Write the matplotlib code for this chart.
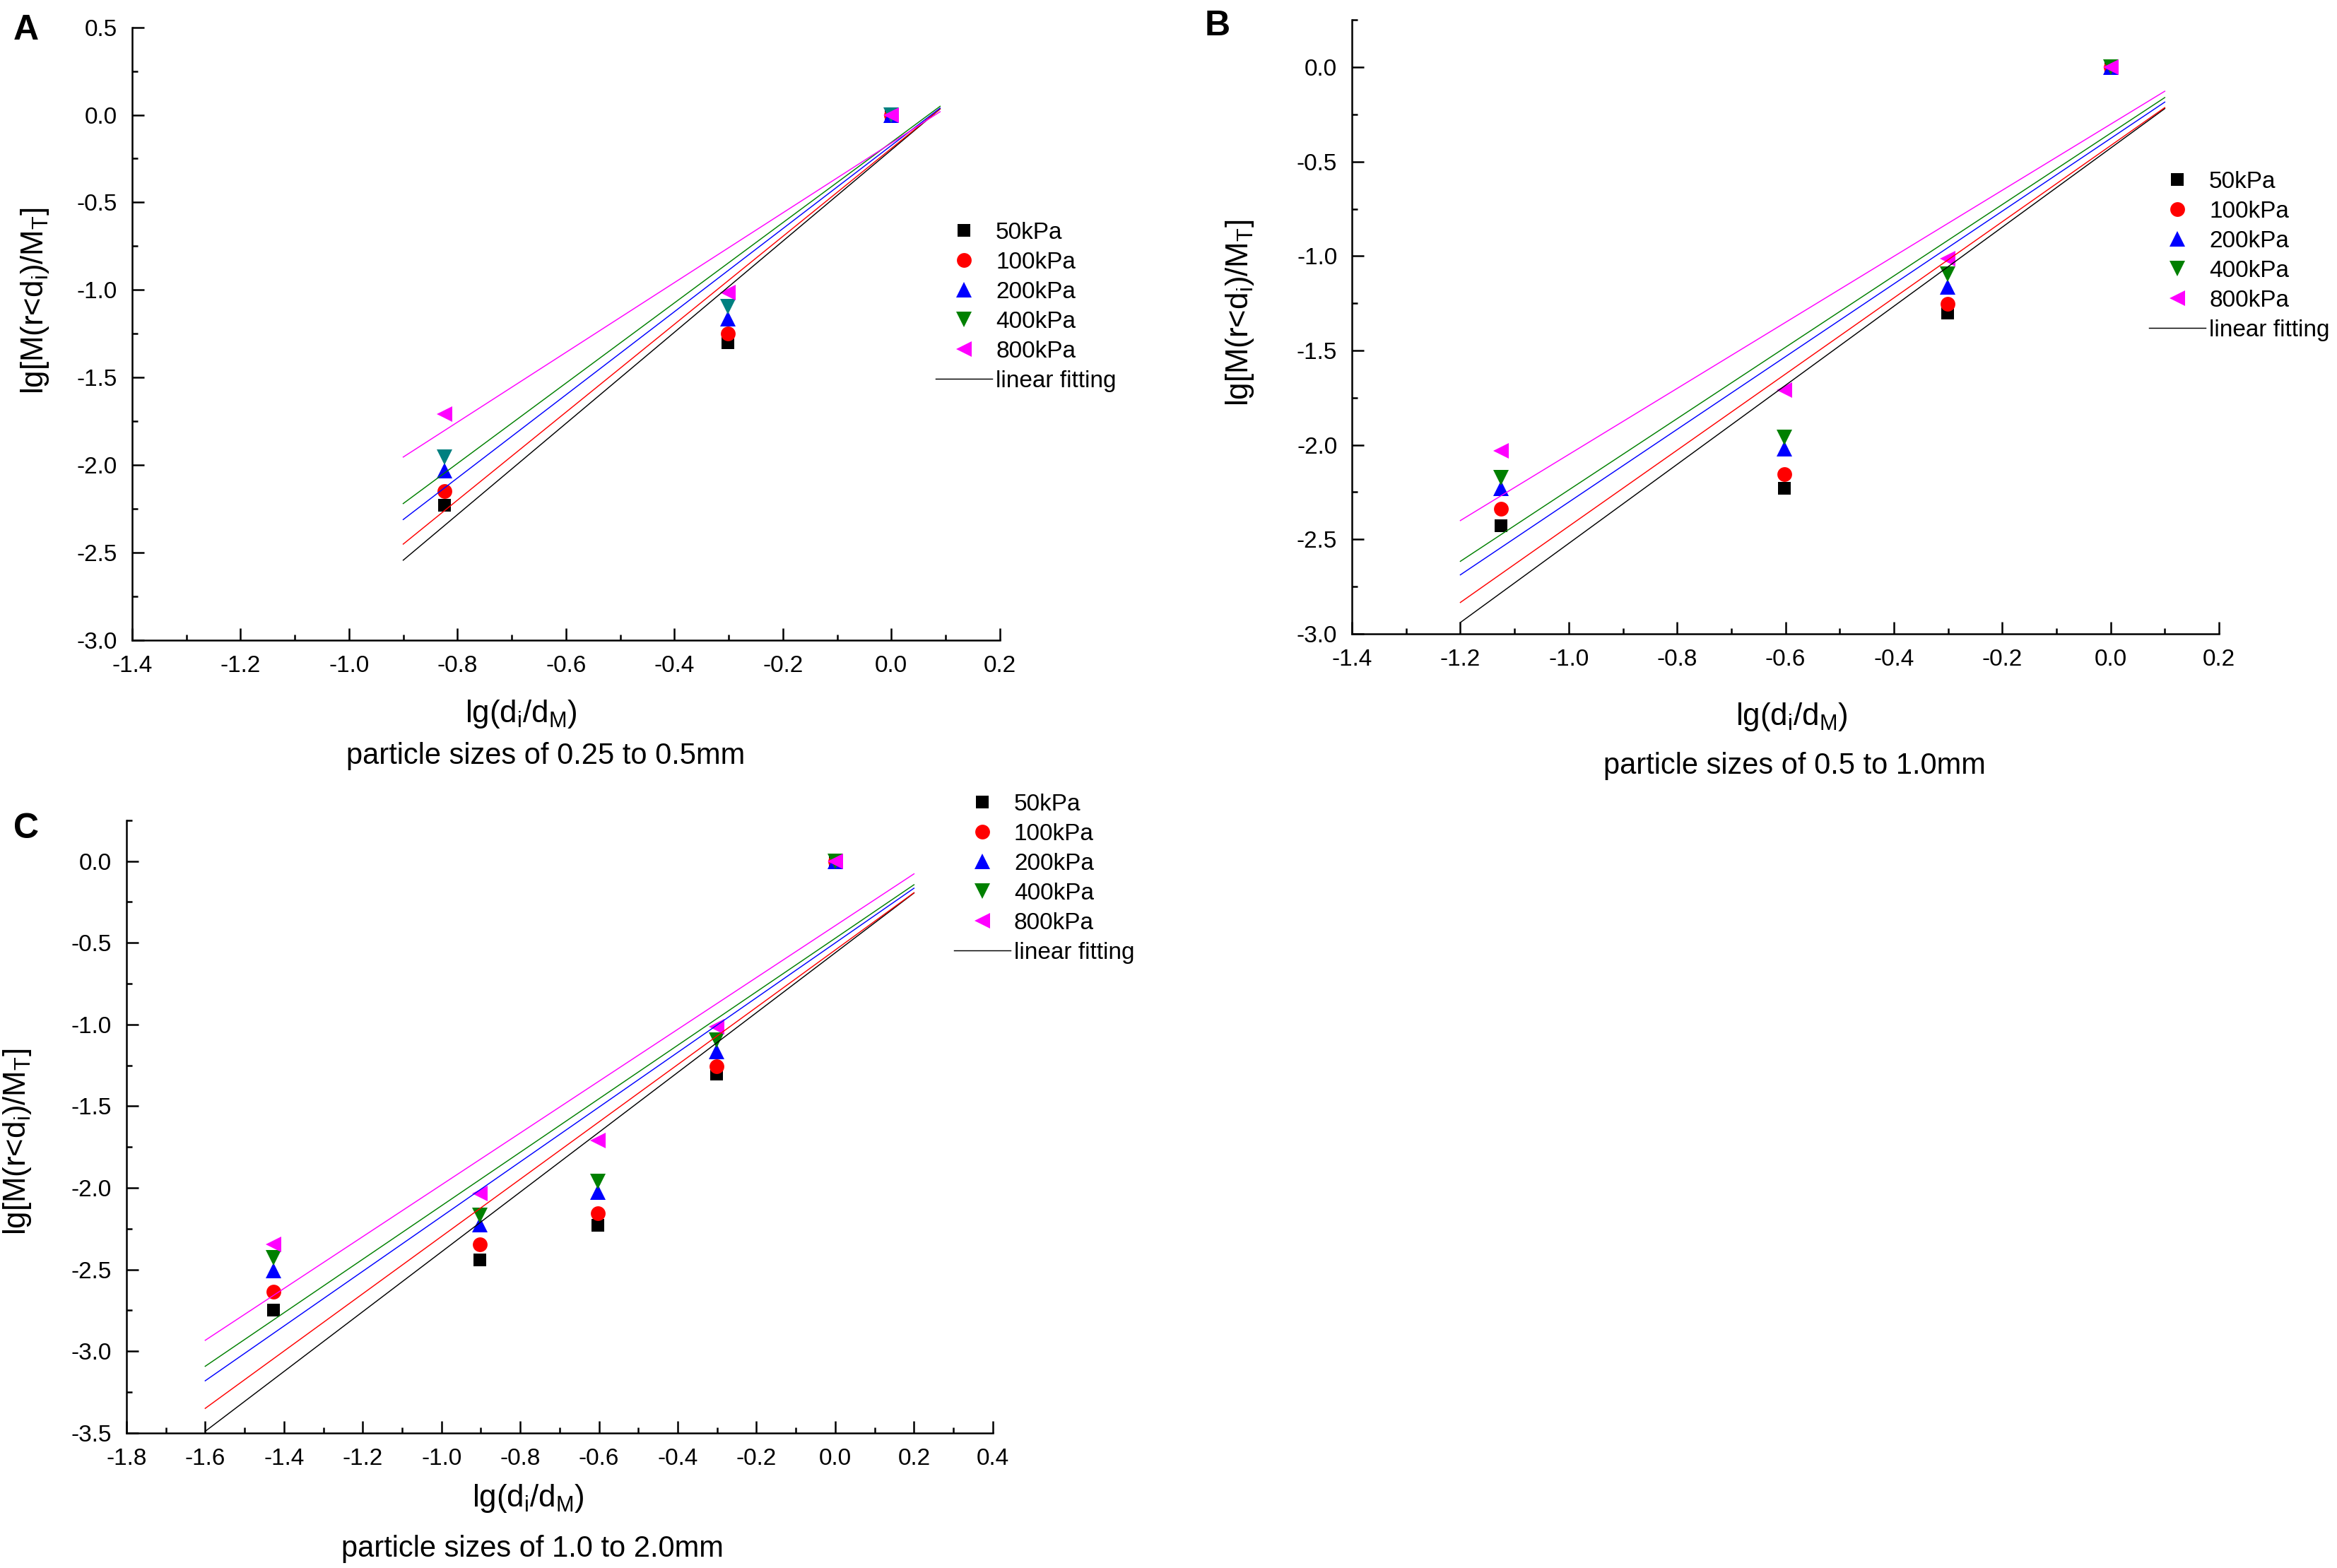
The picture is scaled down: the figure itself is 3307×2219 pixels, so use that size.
import numpy as np
import matplotlib
matplotlib.use("Agg")
from matplotlib import pyplot as plt
from matplotlib.lines import Line2D
import matplotlib.ticker as ticker

plt.rcParams['font.family'] = ['Liberation Sans', 'DejaVu Sans']
plt.rcParams['mathtext.fontset'] = 'custom'
plt.rcParams['mathtext.rm'] = 'Liberation Sans'
plt.rcParams['axes.unicode_minus'] = False

# Data
pressures = ["50kPa", "100kPa", "200kPa", "400kPa", "800kPa"]

# A: particle sizes of 0.25 to 0.5mm
A_x = [-0.824, -0.301, 0.0]
A_p50 = [-2.23, -1.30, 0.0]
A_p100 = [-2.15, -1.25, 0.0]
A_p200 = [-2.03, -1.165, 0.0]
A_p400 = [-1.955, -1.095, 0.0]
A_p800 = [-1.71, -1.015, 0.0]

# B: particle sizes of 0.5 to 1.0mm
B_x = [-1.125, -0.602, -0.301, 0.0]
B_p50 = [-2.43, -2.23, -1.30, 0.0]
B_p100 = [-2.34, -2.155, -1.255, 0.0]
B_p200 = [-2.23, -2.02, -1.165, 0.0]
B_p400 = [-2.175, -1.96, -1.095, 0.0]
B_p800 = [-2.03, -1.71, -1.015, 0.0]

# C: particle sizes of 1.0 to 2.0mm
C_x = [-1.426, -0.903, -0.602, -0.301, 0.0]
C_p50 = [-2.75, -2.44, -2.23, -1.305, 0.0]
C_p100 = [-2.635, -2.345, -2.155, -1.255, 0.0]
C_p200 = [-2.505, -2.225, -2.025, -1.165, 0.0]
C_p400 = [-2.43, -2.17, -1.96, -1.095, 0.0]
C_p800 = [-2.345, -2.035, -1.71, -1.015, 0.0]

# x range drawn for the fitted lines
A_fit_range = [-0.9, 0.09]
B_fit_range = [-1.2, 0.1]
C_fit_range = [-1.6, 0.2]

# tick values
AB_xticks = [-1.4, -1.2, -1.0, -0.8, -0.6, -0.4, -0.2, 0.0, 0.2]
C_xticks = [-1.8, -1.6, -1.4, -1.2, -1.0, -0.8, -0.6, -0.4, -0.2, 0.0, 0.2, 0.4]
A_yticks = [-3.0, -2.5, -2.0, -1.5, -1.0, -0.5, 0.0, 0.5]
B_yticks = [-3.0, -2.5, -2.0, -1.5, -1.0, -0.5, 0.0]
C_yticks = [-3.5, -3.0, -2.5, -2.0, -1.5, -1.0, -0.5, 0.0]

markers = ["s", "o", "^", "v", "<"]
msizes = [4.5, 5.0, 5.5, 5.5, 5.5]
colors = ["black", "#FF0000", "#0000FF", "#008000", "#FF00FF"]

fig = plt.figure(figsize=(3307/300, 2219/300), dpi=300)

def make_panel(rect, xs, series, fit_range, xlim, ylim, xticks, yticks,
               legend_pos, point_colors):
    ax = fig.add_axes(rect)
    for i, ys in enumerate(series):
        ax.plot(xs, ys, linestyle="none", marker=markers[i], ms=msizes[i],
                color=point_colors[i], markeredgewidth=0, zorder=2, clip_on=False)
    for i, ys in enumerate(series):
        slope, intercept = np.polyfit(xs, ys, 1)
        fx = np.array(fit_range)
        ax.plot(fx, slope*fx + intercept, color=colors[i], linewidth=0.35, zorder=3)
    ax.set_xlim(*xlim)
    ax.set_ylim(*ylim)
    ax.set_xticks(xticks)
    ax.set_yticks(yticks)
    ax.xaxis.set_minor_locator(ticker.AutoMinorLocator(2))
    ax.yaxis.set_minor_locator(ticker.AutoMinorLocator(2))
    ax.xaxis.set_major_formatter(ticker.FuncFormatter(lambda v, p: "%.1f" % (round(v, 1) + 0.0)))
    ax.yaxis.set_major_formatter(ticker.FuncFormatter(lambda v, p: "%.1f" % (round(v, 1) + 0.0)))
    ax.spines['top'].set_visible(False)
    ax.spines['right'].set_visible(False)
    ax.spines['left'].set_linewidth(0.6)
    ax.spines['bottom'].set_linewidth(0.6)
    ax.tick_params(which='major', direction='in', length=4, width=0.6, labelsize=8, pad=5)
    ax.tick_params(which='minor', direction='in', length=2, width=0.6)

    handles = [Line2D([], [], linestyle="none", marker=markers[i], ms=msizes[i],
                      color=colors[i], markeredgewidth=0) for i in range(5)]
    handles.append(Line2D([], [], color="black", linewidth=0.35))
    labels = pressures + ["linear fitting"]
    ax.legend(handles, labels, loc="upper left", bbox_to_anchor=legend_pos,
              bbox_transform=fig.transFigure, frameon=False, borderpad=0,
              borderaxespad=0, handlelength=2.4, handletextpad=0.15,
              labelspacing=0.33, fontsize=8)
    return ax

ylab = r'lg[M(r<d$_\mathregular{i}$)/M$_\mathregular{T}$]'
xlab = r'lg(d$_\mathregular{i}$/d$_\mathregular{M}$)'

# Panel A
make_panel([0.0565, 0.5917, 0.3713, 0.3909], A_x,
           [A_p50, A_p100, A_p200, A_p400, A_p800], A_fit_range,
           (-1.4, 0.2), (-3.0, 0.5), AB_xticks, A_yticks,
           (0.4004, 0.8585),
           ["black", "#FF0000", "#0000FF", "#008080", "#FF00FF"])
# Panel B
make_panel([0.5785, 0.5959, 0.371, 0.3913], B_x,
           [B_p50, B_p100, B_p200, B_p400, B_p800], B_fit_range,
           (-1.4, 0.2), (-3.0, 0.25), AB_xticks, B_yticks,
           (0.9196, 0.8909), colors)
# Panel C
make_panel([0.0541, 0.0862, 0.3707, 0.3907], C_x,
           [C_p50, C_p100, C_p200, C_p400, C_p800], C_fit_range,
           (-1.8, 0.4), (-3.5, 0.25), C_xticks, C_yticks,
           (0.4082, 0.4939), colors)

# panel letters
fig.text(0.0057, 0.991, "A", fontsize=12, fontweight="bold", ha="left", va="top")
fig.text(0.5156, 0.9937, "B", fontsize=12, fontweight="bold", ha="left", va="top")
fig.text(0.0057, 0.4818, "C", fontsize=12, fontweight="bold", ha="left", va="top")

# axis labels
fig.text(0.0151, 0.808, ylab, fontsize=10.5, rotation=90, ha="center", va="center")
fig.text(0.5304, 0.8004, ylab, fontsize=10.5, rotation=90, ha="center", va="center")
fig.text(0.0073, 0.2717, ylab, fontsize=10.5, rotation=90, ha="center", va="center")

fig.text(0.2229, 0.5448, xlab, fontsize=10.5, ha="center", va="center")
fig.text(0.7666, 0.543, xlab, fontsize=10.5, ha="center", va="center")
fig.text(0.2259, 0.0446, xlab, fontsize=10.5, ha="center", va="center")

fig.text(0.2334, 0.5178, "particle sizes of 0.25 to 0.5mm", fontsize=10, ha="center", va="center")
fig.text(0.768, 0.5115, "particle sizes of 0.5 to 1.0mm", fontsize=10, ha="center", va="center")
fig.text(0.2277, 0.0122, "particle sizes of 1.0 to 2.0mm", fontsize=10, ha="center", va="center")

fig.savefig("out.png", dpi=300, facecolor="white")
